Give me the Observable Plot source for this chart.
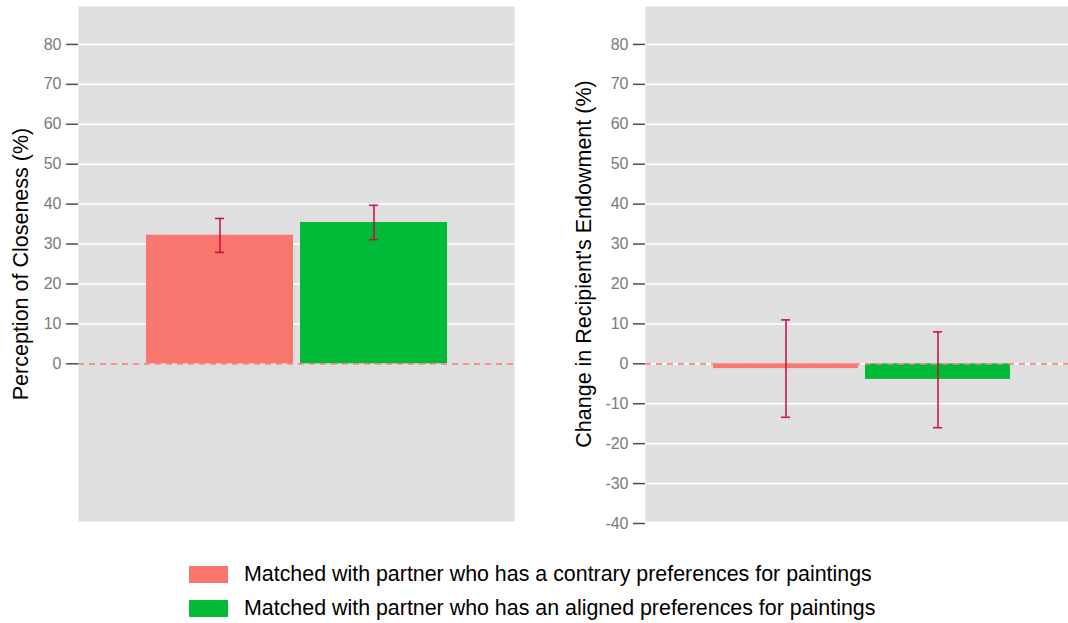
<!DOCTYPE html>
<html>
<head>
<meta charset="utf-8">
<script src="https://cdn.jsdelivr.net/npm/d3@7"></script>
<script src="https://cdn.jsdelivr.net/npm/@observablehq/plot@0.6"></script>
<style>
  html, body { margin: 0; padding: 0; background: #ffffff; overflow: hidden; }
  #wrap { position: relative; width: 1068px; height: 623px; overflow: hidden; font-family: "Liberation Sans", Arial, sans-serif; }
  .panel { position: absolute; top: 0; }
  .panel svg { max-width: none !important; }
  #legend { position: absolute; left: 189px; top: 566px; }
  .row { display: flex; align-items: center; height: 17px; margin-bottom: 17px; }
  .swatch { width: 39px; height: 17px; margin-right: 16px; flex: none; }
  .lab { font-size: 21.4px; color: #000; white-space: nowrap; line-height: 17px; }
</style>
</head>
<body>
<div id="wrap">
  <div id="left" class="panel" style="left:0px; width:540px"></div>
  <div id="right" class="panel" style="left:540px; width:538px"></div>
  <div id="legend"></div>
</div>
<script>
// Treatment groups and their legend labels
const groups = ["contrary", "aligned"];
const groupLabels = [
  "Matched with partner who has a contrary preferences for paintings",
  "Matched with partner who has an aligned preferences for paintings"
];

// Perception of closeness (%): mean with error-bar bounds
const closenessMean = [32.2, 35.4];
const closenessLow  = [27.9, 31.1];
const closenessHigh = [36.4, 39.7];

// Change in recipient's endowment (%): mean with error-bar bounds
const endowmentMean = [-1.2, -3.9];
const endowmentLow  = [-13.4, -16.0];
const endowmentHigh = [11.0, 8.0];

// Axis ticks for each panel
const closenessTicks = [0, 10, 20, 30, 40, 50, 60, 70, 80];
const endowmentTicks = [-40, -30, -20, -10, 0, 10, 20, 30, 40, 50, 60, 70, 80];

const palette = ["#F8766D", "#00BA38"];
const errColor = "#CC0536";
const font = "'Liberation Sans', Arial, sans-serif";

function rows(mean, low, high) {
  return groups.map((g, i) => ({group: g, value: mean[i], low: low[i], high: high[i]}));
}

function panel({data, ticks, grid, label, width, marginLeft, marginRight, paddingInner, paddingOuter, labelDx, capInset}) {
  return Plot.plot({
    width,
    height: 540,
    marginTop: 6,
    marginBottom: 19,
    marginLeft,
    marginRight,
    style: {fontFamily: font, background: "transparent", overflow: "visible"},
    x: {domain: groups, paddingInner, paddingOuter, axis: null},
    y: {domain: [-39.5, 89.5], axis: null},
    color: {domain: groups, range: palette},
    marks: [
      Plot.frame({fill: "#DFDFDF", stroke: null}),
      Plot.gridY(grid, {stroke: "#ffffff", strokeOpacity: 1, strokeWidth: 1.5}),
      Plot.axisY({ticks, tickSize: 12, tickPadding: 5, stroke: "#4d4d4d", strokeWidth: 1.5,
                  fill: "#7a7a7a", fontSize: 16, label: null, tickFormat: d => String(d)}),
      Plot.barY(data, {x: "group", y: "value", fill: "group"}),
      // dashed reference line at zero
      Plot.ruleY([0], {stroke: "#F28B84", strokeWidth: 1.8, strokeDasharray: "6,5"}),
      // error bars: stem plus caps
      Plot.ruleX(data, {x: "group", y1: "low", y2: "high", stroke: errColor, strokeWidth: 1.6, strokeOpacity: 0.9}),
      Plot.tickY(data, {x: "group", y: "high", stroke: errColor, strokeWidth: 1.6, strokeOpacity: 0.9, insetLeft: capInset, insetRight: capInset}),
      Plot.tickY(data, {x: "group", y: "low", stroke: errColor, strokeWidth: 1.6, strokeOpacity: 0.9, insetLeft: capInset, insetRight: capInset}),
      Plot.text([label], {frameAnchor: "left", text: d => d, rotate: -90, textAnchor: "middle", lineAnchor: "middle",
                          dx: labelDx, fontSize: 21.5, fill: "#000000", fontFamily: font})
    ]
  });
}

document.getElementById("left").append(panel({
  data: rows(closenessMean, closenessLow, closenessHigh),
  ticks: closenessTicks,
  grid: closenessTicks.filter(d => d !== 0),
  label: "Perception of Closeness (%)",
  width: 540, marginLeft: 78, marginRight: 26,
  paddingInner: 0.0455, paddingOuter: 0.438,
  labelDx: -57, capInset: 69
}));

document.getElementById("right").append(panel({
  data: rows(endowmentMean, endowmentLow, endowmentHigh),
  ticks: endowmentTicks.filter(d => d <= 80),
  grid: endowmentTicks.filter(d => d > -40 && d <= 80),
  label: "Change in Recipient's Endowment (%)",
  width: 538, marginLeft: 105, marginRight: 0,
  paddingInner: 0.046, paddingOuter: 0.447,
  labelDx: -61, capInset: 68
}));

// Legend built from the same groups and palette
const legend = d3.select("#legend");
groupLabels.forEach((t, i) => {
  const r = legend.append("div").attr("class", "row");
  r.append("div").attr("class", "swatch").style("background", palette[i]);
  r.append("div").attr("class", "lab").text(t);
});
</script>
</body>
</html>
